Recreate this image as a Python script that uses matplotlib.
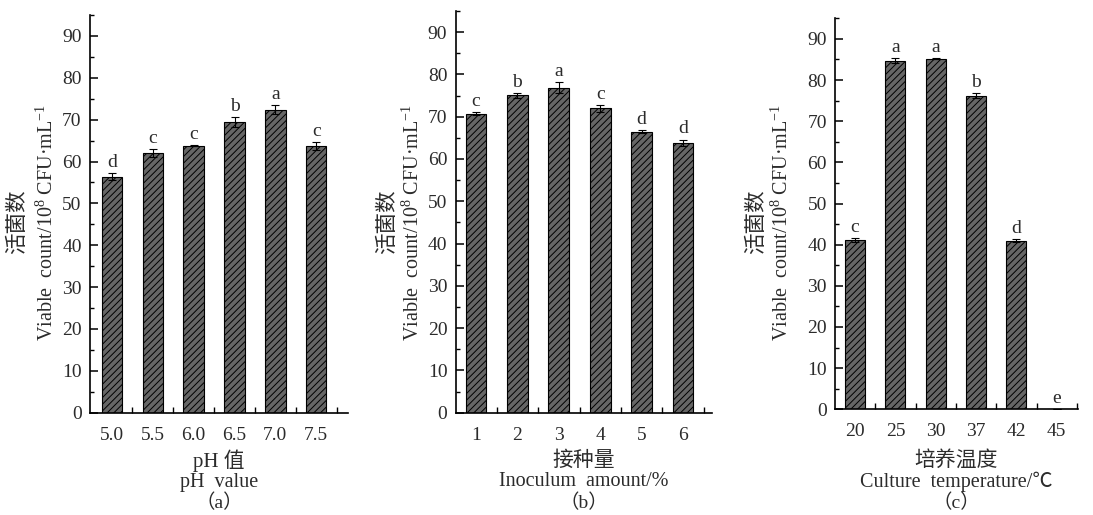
import numpy as np
import matplotlib
matplotlib.use('Agg')
import matplotlib.pyplot as plt
from matplotlib.ticker import MultipleLocator

plt.rcParams['font.family'] = ['Liberation Serif', 'Noto Sans CJK SC']
plt.rcParams['mathtext.fontset'] = 'custom'
plt.rcParams['mathtext.rm'] = 'Liberation Serif'
plt.rcParams['hatch.linewidth'] = 0.7

# panel (a): pH
ph_labels = ['5.0', '5.5', '6.0', '6.5', '7.0', '7.5']
ph_vals = [56.4, 62.0, 63.8, 69.4, 72.4, 63.7]
ph_err = [0.8, 0.9, 0.2, 1.2, 1.1, 1.0]
ph_sig = ['d', 'c', 'c', 'b', 'a', 'c']

# panel (b): inoculum amount
ino_labels = ['1', '2', '3', '4', '5', '6']
ino_vals = [70.7, 75.1, 76.9, 72.0, 66.5, 63.8]
ino_err = [0.4, 0.6, 1.3, 0.8, 0.3, 0.8]
ino_sig = ['c', 'b', 'a', 'c', 'd', 'd']

# panel (c): culture temperature
temp_labels = ['20', '25', '30', '37', '42', '45']
temp_vals = [41.2, 84.7, 85.2, 76.2, 41.0, 0.0]
temp_err = [0.5, 0.6, 0.2, 0.6, 0.3, 0.0]
temp_sig = ['c', 'a', 'a', 'b', 'd', 'e']

txt_color = '#2b2b2b'
ylab_cn = '活菌数'
ylab_en = 'Viable  count/10$^{8}$ CFU·mL$^{-1}$'

panels = [
    dict(labels=ph_labels, vals=ph_vals, err=ph_err, sig=ph_sig,
         pos=[90, 348, 15, 412.7], xlim=(-0.54, 5.78),
         xl1='pH 值', xl2='pH  value', tag='（a）', ylx=(18, 47)),
    dict(labels=ino_labels, vals=ino_vals, err=ino_err, sig=ino_sig,
         pos=[455.7, 712, 11, 412.7], xlim=(-0.49, 5.7),
         xl1='接种量', xl2='Inoculum  amount/%', tag='（b）', ylx=(388, 413)),
    dict(labels=temp_labels, vals=temp_vals, err=temp_err, sig=temp_sig,
         pos=[835.3, 1077.7, 18.3, 409.3], xlim=(-0.49, 5.52),
         xl1='培养温度', xl2='Culture  temperature/℃', tag='（c）', ylx=(757, 782)),
]

W, H = 1093, 515
fig = plt.figure(figsize=(W / 100, H / 100), dpi=100)

for p in panels:
    x0, x1, ytop, ybot = p['pos']
    ax = fig.add_axes([x0 / W, 1 - ybot / H, (x1 - x0) / W, (ybot - ytop) / H])
    x = np.arange(len(p['labels']))
    ax.bar(x, p['vals'], width=0.5, color='#666666', edgecolor='black',
           linewidth=0.8, hatch='/////', zorder=2)
    ax.errorbar(x, p['vals'], yerr=p['err'], fmt='none', ecolor='black',
                elinewidth=0.8, capsize=3, capthick=0.8, zorder=3)
    for xi, v, e, s in zip(x, p['vals'], p['err'], p['sig']):
        ax.annotate(s, (xi, v + e), xytext=(0, 1.5), textcoords='offset points',
                    ha='center', va='bottom', fontsize=14, color=txt_color)
    ax.set_xlim(*p['xlim'])
    ax.set_ylim(0, 95)
    ax.spines['top'].set_visible(False)
    ax.spines['right'].set_visible(False)
    ax.spines['left'].set_linewidth(1.2)
    ax.spines['bottom'].set_linewidth(1.2)
    ax.yaxis.set_major_locator(MultipleLocator(10))
    ax.yaxis.set_minor_locator(MultipleLocator(5))
    ax.set_xticks(x)
    ax.set_xticklabels(p['labels'])
    ax.set_xticks(x + 0.5, minor=True)
    ax.tick_params(axis='y', which='major', direction='in', length=6, width=1.1,
                   labelsize=14, labelcolor=txt_color, pad=6)
    ax.tick_params(axis='y', which='minor', direction='in', length=3, width=1.0)
    ax.tick_params(axis='x', which='major', length=0, labelsize=14,
                   labelcolor=txt_color, pad=10)
    ax.tick_params(axis='x', which='minor', direction='in', length=4, width=1.0)

    cx = (x0 + x1) / 2 / W
    fig.text(cx, 1 - 461 / H, p['xl1'], ha='center', va='center', fontsize=15, color=txt_color)
    fig.text(cx, 1 - 482 / H, p['xl2'], ha='center', va='center', fontsize=14.5, color=txt_color)
    fig.text(cx, 1 - 503 / H, p['tag'], ha='center', va='center', fontsize=14, color=txt_color)

    fig.text(p['ylx'][0] / W, 1 - 222 / H, ylab_cn, rotation=90, ha='center',
             va='center', fontsize=15.5, color=txt_color)
    fig.text(p['ylx'][1] / W, 1 - 222 / H, ylab_en, rotation=90, ha='center',
             va='center', fontsize=14.5, color=txt_color)

fig.savefig('out.png', dpi=100)
